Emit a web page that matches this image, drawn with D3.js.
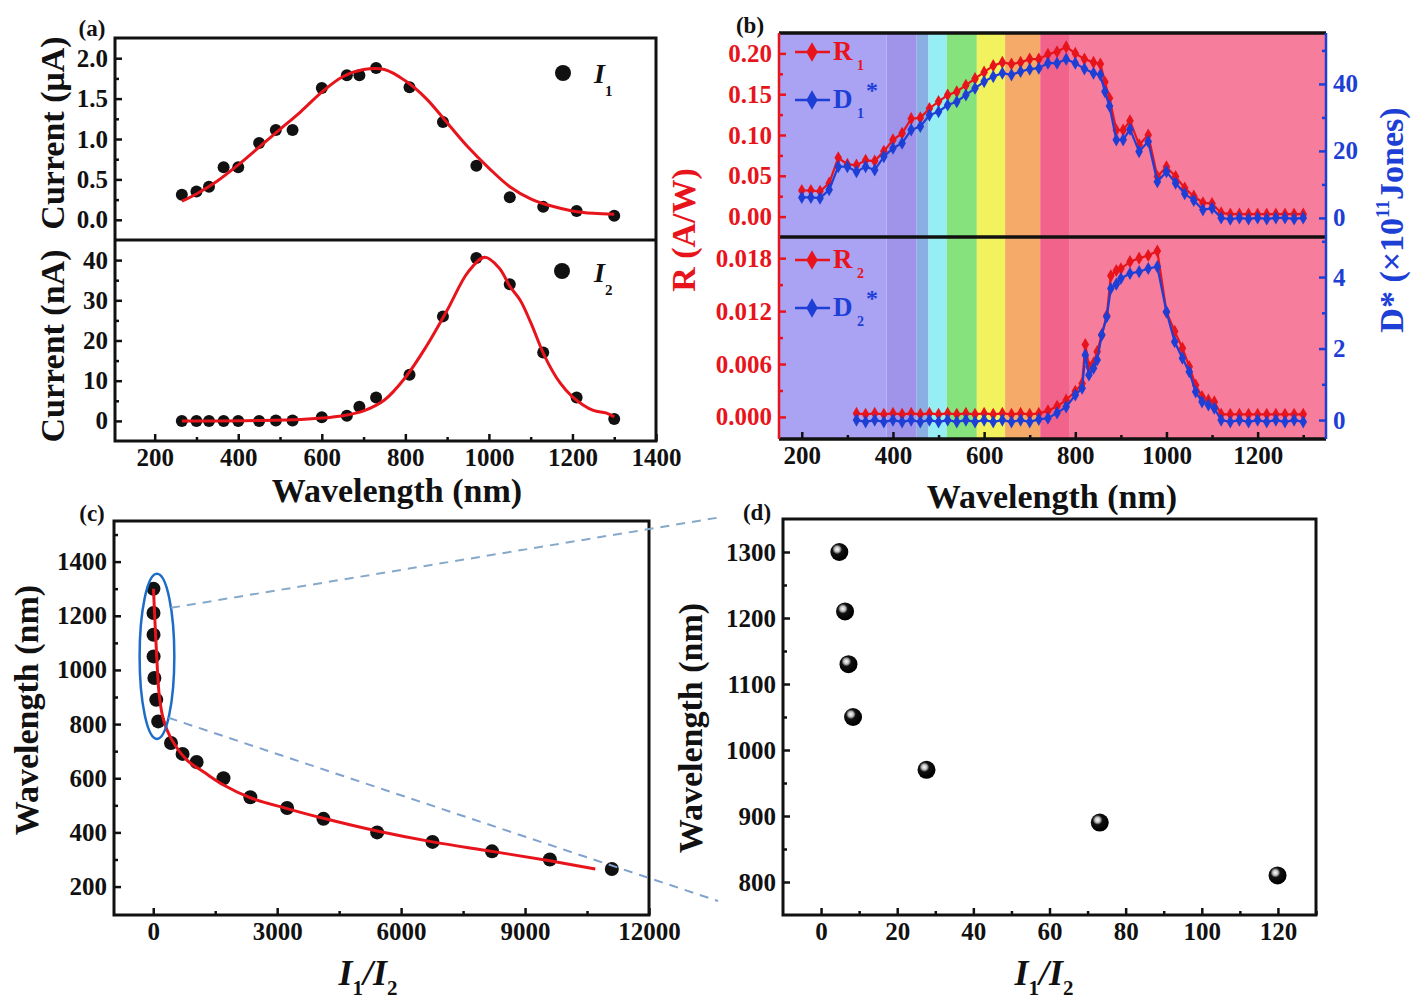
<!DOCTYPE html>
<html>
<head>
<meta charset="utf-8">
<script src="https://cdn.jsdelivr.net/npm/d3@7"></script>
<style>
  body { margin: 0; background: #fff; }
  svg text { font-family: "Liberation Serif", "Times New Roman", serif; font-weight: bold; }
</style>
</head>
<body>
<svg id="fig" width="1415" height="1005"></svg>
<script>
'use strict';

// ---------------------------------------------------------------
// Panel (a): photocurrent of the two channels vs wavelength
const wlA = [265, 300, 330, 365, 400, 450, 490, 530, 600, 660, 690, 730, 810, 890, 970, 1050, 1130, 1210, 1300];
const i1 = [0.31, 0.35, 0.41, 0.65, 0.65, 0.95, 1.11, 1.11, 1.63, 1.79, 1.79, 1.88, 1.64, 1.21, 0.67, 0.28, 0.16, 0.11, 0.05];
const i2 = [0, 0, 0, 0, 0, 0, 0.1, 0.1, 0.9, 1.3, 3.5, 5.8, 11.5, 26, 40.5, 34, 17, 5.8, 0.5];

// fitted curves
const fitWlI1 = [265, 300, 350, 400, 450, 500, 550, 600, 650, 700, 750, 800, 850, 900, 950, 1000, 1050, 1100, 1150, 1200, 1250, 1300];
const fitI1 = [0.23, 0.32, 0.48, 0.68, 0.90, 1.12, 1.34, 1.58, 1.77, 1.86, 1.86, 1.72, 1.50, 1.20, 0.90, 0.64, 0.41, 0.26, 0.17, 0.11, 0.08, 0.07];
const fitWlI2 = [265, 350, 450, 550, 600, 650, 700, 750, 800, 850, 900, 950, 990, 1025, 1050, 1075, 1100, 1134, 1170, 1200, 1250, 1280, 1300];
const fitI2 = [0, 0, 0.1, 0.35, 0.7, 1.3, 2.5, 5.2, 10.8, 18.5, 27.5, 37, 40.7, 38, 33.5, 30, 24.5, 16, 9.5, 6, 2.6, 2, 1.0];

// ---------------------------------------------------------------
// Panel (b): responsivity and detectivity
const wlB1 = [200, 220, 240, 260, 280, 300, 320, 340, 360, 380, 400, 420, 440, 460, 480, 500, 520, 540, 560, 580,
  600, 620, 640, 660, 680, 700, 720, 740, 760, 780, 800, 820, 840, 855, 865, 875, 890, 905, 920, 940,
  960, 980, 1000, 1020, 1040, 1060, 1080, 1100, 1120, 1140, 1160, 1180, 1200, 1220, 1240, 1260, 1280, 1300];
const r1 = [0.032, 0.032, 0.031, 0.041, 0.072, 0.064, 0.063, 0.069, 0.068, 0.080, 0.094, 0.102, 0.120, 0.121, 0.1325, 0.141, 0.149, 0.153, 0.161, 0.169,
  0.177, 0.185, 0.189, 0.187, 0.189, 0.193, 0.193, 0.199, 0.202, 0.208, 0.200, 0.193, 0.189, 0.187, 0.165, 0.145, 0.106, 0.106, 0.1175, 0.088,
  0.100, 0.049, 0.061, 0.049, 0.035, 0.025, 0.017, 0.016, 0.0045, 0.003, 0.003, 0.003, 0.003, 0.003, 0.003, 0.003, 0.003, 0.003];
const d1 = [6.1, 6.1, 5.9, 8.4, 15.3, 15.3, 13.8, 15.3, 14.3, 18.3, 20.8, 22.3, 26.3, 27.3, 30.7, 31.7, 33.7, 34.7, 36.7, 38.7,
  40.7, 42.2, 43.2, 42.7, 43.7, 44.4, 44.7, 46.2, 46.2, 47.4, 46.2, 44.5, 43.2, 42.7, 37.7, 33.4, 23.3, 23.3, 26.5, 19.8,
  22.8, 10.8, 13.8, 10.4, 7.2, 5.2, 2.4, 2.9, 0.0, -0.4, 0.0, -0.3, 0.0, -0.3, 0.0, 0.0, -0.3, 0.0];

const wlB2 = [320, 340, 360, 380, 400, 420, 440, 460, 480, 500, 520, 540, 560, 580, 600, 620, 640, 660, 680, 700,
  720, 740, 760, 780, 800, 815, 822, 830, 840, 848, 858, 869, 878, 890, 900, 920, 940, 960, 980, 1000,
  1018, 1035, 1050, 1064, 1078, 1092, 1105, 1120, 1140, 1160, 1180, 1200, 1220, 1240, 1260, 1280, 1300];
const r2 = [0.0004, 0.0003, 0.0004, 0.0003, 0.0004, 0.0003, 0.0004, 0.0003, 0.0004, 0.0003, 0.0004, 0.0003, 0.0004, 0.0003, 0.0004, 0.0003, 0.0004, 0.0003, 0.0004, 0.0003,
  0.0004, 0.0007, 0.0012, 0.0019, 0.0029, 0.0038, 0.0082, 0.0057, 0.0061, 0.0074, 0.0093, 0.0115, 0.0160, 0.0166, 0.0168, 0.0176, 0.0180, 0.0183, 0.0188, 0.0119,
  0.0097, 0.0078, 0.0057, 0.0036, 0.0023, 0.0019, 0.0017, 0.0003, 0.0003, 0.0003, 0.0003, 0.0003, 0.0003, 0.0003, 0.0003, 0.0003, 0.0003];
const d2 = [0, -0.05, 0, -0.05, 0, -0.05, 0, -0.05, 0, -0.05, 0, -0.05, 0, -0.05, 0, -0.05, 0, -0.05, 0, -0.05,
  0.02, 0.05, 0.2, 0.37, 0.7, 0.89, 1.82, 1.26, 1.45, 1.68, 2.38, 2.89, 3.68, 3.8, 3.96, 4.1, 4.15, 4.24, 4.29, 3.03,
  2.19, 1.73, 1.35, 0.79, 0.51, 0.42, 0.33, 0.0, -0.05, 0, -0.05, 0, -0.05, 0, -0.05, 0, -0.05];

// spectral bands behind panel (b), edges in nm
const bandEdges = [150, 386, 452, 478, 518, 584, 646, 723, 788, 1350];
const bandColors = ['#aaa3f3', '#a093ea', '#8aafe2', '#95eef3', '#86e27c', '#f2f25f', '#f6aa6a', '#f2638c', '#f67d9b'];

// ---------------------------------------------------------------
// Panel (c) / (d): wavelength vs I1/I2
const wlC = [265, 300, 330, 365, 400, 450, 490, 530, 600, 660, 690, 730, 810, 890, 970, 1050, 1130, 1210, 1300];
const ratioC = [11100, 9600, 8200, 6760, 5420, 4120, 3240, 2350, 1700, 1050, 710, 430, 120, 73, 28, 8.5, 7.2, 6.3, 4.8];
const fitRatioC = [5, 80, 150, 250, 420, 810, 1250, 1700, 2350, 3240, 4120, 5420, 6760, 8200, 9600, 10700];
const fitWlC = [1300, 1060, 900, 815, 750, 668, 620, 575, 528, 488, 452, 405, 365, 330, 295, 265];

const wlD = [1300, 1210, 1130, 1050, 970, 890, 810];
const ratioD = [4.8, 6.3, 7.2, 8.4, 27.7, 73.2, 119.9];

// tick values
const ticksAx = [200, 400, 600, 800, 1000, 1200, 1400];
const ticksA1 = [0, 0.5, 1.0, 1.5, 2.0];
const ticksA2 = [0, 10, 20, 30, 40];
const ticksBx = [200, 400, 600, 800, 1000, 1200];
const ticksBL1 = [0, 0.05, 0.10, 0.15, 0.20];
const ticksBR1 = [0, 20, 40];
const ticksBL2 = [0, 0.006, 0.012, 0.018];
const ticksBR2 = [0, 2, 4];
const ticksCx = [0, 3000, 6000, 9000, 12000];
const ticksCy = [200, 400, 600, 800, 1000, 1200, 1400];
const ticksDx = [0, 20, 40, 60, 80, 100, 120];
const ticksDy = [800, 900, 1000, 1100, 1200, 1300];

// ---------------------------------------------------------------
const svg = d3.select('#fig');
const RED = '#e8141c';
const BLUE = '#1e3fd6';
const BLACK = '#111';
const TITLE = 34;

svg.append('rect').attr('width', 1415).attr('height', 1005).attr('fill', '#fff');

const defs = svg.append('defs');
const ball = defs.append('radialGradient').attr('id', 'ball').attr('cx', '38%').attr('cy', '35%').attr('r', '60%');
ball.append('stop').attr('offset', '0%').attr('stop-color', '#fff');
ball.append('stop').attr('offset', '25%').attr('stop-color', '#bbb');
ball.append('stop').attr('offset', '45%').attr('stop-color', '#111');
ball.append('stop').attr('offset', '100%').attr('stop-color', '#000');

// Draws one axis with major ticks (labelled) and optional minor ticks, all pointing inward.
function addAxis(gen, scale, major, minor, at, color, fmt, size) {
    const a = svg.append('g').attr('transform', at)
        .call(gen(scale).tickValues(major).tickSizeInner(-7).tickSizeOuter(0).tickPadding(7).tickFormat(fmt));
    a.select('.domain').remove();
    a.selectAll('.tick line').attr('stroke', color).attr('stroke-width', 2.5);
    a.selectAll('.tick text').attr('fill', color).attr('font-size', size || 25);
    if (minor) {
        const m = svg.append('g').attr('transform', at)
            .call(gen(scale).tickValues(minor).tickSizeInner(-4).tickSizeOuter(0).tickFormat(''));
        m.select('.domain').remove();
        m.selectAll('.tick line').attr('stroke', color).attr('stroke-width', 2.5);
    }
}

function text(x, y, str, size, color, rotate, anchor) {
    const t = svg.append('text')
        .attr('transform', `translate(${x},${y})` + (rotate ? ' rotate(-90)' : ''))
        .attr('text-anchor', anchor || 'middle')
        .attr('font-size', size)
        .attr('fill', color || BLACK);
    t.text(str);
    return t;
}

function hLine(x1, x2, y, color, w) {
    svg.append('line').attr('x1', x1).attr('x2', x2).attr('y1', y).attr('y2', y)
        .attr('stroke', color).attr('stroke-width', w);
}
function vLine(x, y1, y2, color, w) {
    svg.append('line').attr('x1', x).attr('x2', x).attr('y1', y1).attr('y2', y2)
        .attr('stroke', color).attr('stroke-width', w);
}

// ===============================================================
// Panel (a)
const aX = d3.scaleLinear().domain([105, 1400]).range([115, 656]);
const aY1 = d3.scaleLinear().domain([-0.25, 2.25]).range([240, 38]);
const aY2 = d3.scaleLinear().domain([-5, 45]).range([441, 240]);

const lineA1 = d3.line().x((d, i) => aX(fitWlI1[i])).y(d => aY1(d)).curve(d3.curveCatmullRom);
const lineA2 = d3.line().x((d, i) => aX(fitWlI2[i])).y(d => aY2(d)).curve(d3.curveCatmullRom);

svg.append('g').selectAll('circle').data(i1).enter().append('circle')
    .attr('cx', (d, i) => aX(wlA[i])).attr('cy', d => aY1(d)).attr('r', 6).attr('fill', BLACK);
svg.append('g').selectAll('circle').data(i2).enter().append('circle')
    .attr('cx', (d, i) => aX(wlA[i])).attr('cy', d => aY2(d)).attr('r', 6).attr('fill', BLACK);
svg.append('path').datum(fitI1).attr('d', lineA1).attr('fill', 'none').attr('stroke', RED).attr('stroke-width', 3);
svg.append('path').datum(fitI2).attr('d', lineA2).attr('fill', 'none').attr('stroke', RED).attr('stroke-width', 3);

addAxis(d3.axisLeft, aY1, ticksA1, [0.25, 0.75, 1.25, 1.75], 'translate(115,0)', BLACK, d3.format('.1f'));
addAxis(d3.axisLeft, aY2, ticksA2, [5, 15, 25, 35], 'translate(115,0)', BLACK, d3.format('d'));
addAxis(d3.axisBottom, aX, ticksAx, [300, 500, 700, 900, 1100, 1300], 'translate(0,441)', BLACK, d3.format('d'));

svg.append('rect').attr('x', 115).attr('y', 38).attr('width', 541).attr('height', 403)
    .attr('fill', 'none').attr('stroke', BLACK).attr('stroke-width', 3);
hLine(115, 656, 240, BLACK, 3);

// legend (a)
svg.append('circle').attr('cx', 563).attr('cy', 73).attr('r', 8).attr('fill', BLACK);
const la1 = text(594, 83, 'I', 28, BLACK, false, 'start').attr('font-style', 'italic');
la1.append('tspan').attr('dy', 13).attr('font-size', 15).attr('font-style', 'normal').text('1');
svg.append('circle').attr('cx', 562).attr('cy', 271).attr('r', 8).attr('fill', BLACK);
const la2 = text(594, 282, 'I', 28, BLACK, false, 'start').attr('font-style', 'italic');
la2.append('tspan').attr('dy', 13).attr('font-size', 15).attr('font-style', 'normal').text('2');

text(64, 133, 'Current (\u03bcA)', TITLE, BLACK, true);
text(64, 346, 'Current (nA)', TITLE, BLACK, true);
text(397, 502, 'Wavelength (nm)', TITLE);
text(92, 36, '(a)', 23);

// ===============================================================
// Panel (b)
const bX = d3.scaleLinear().domain([150, 1350]).range([779, 1326]);
const bYL1 = d3.scaleLinear().domain([-0.025, 0.225]).range([237, 33]);
const bYR1 = d3.scaleLinear().domain([-5.7, 55.2]).range([237, 33]);
const bYL2 = d3.scaleLinear().domain([-0.0025, 0.0204]).range([439, 237]);
const bYR2 = d3.scaleLinear().domain([-0.53, 5.12]).range([439, 237]);

svg.append('g').selectAll('rect').data(bandColors).enter().append('rect')
    .attr('x', (d, i) => bX(bandEdges[i]))
    .attr('width', (d, i) => bX(bandEdges[i + 1]) - bX(bandEdges[i]))
    .attr('y', 33).attr('height', 406)
    .attr('fill', d => d);

const diamond = d3.symbol().type(d3.symbolDiamond).size(50);

function series(wl, vals, y, color) {
    const line = d3.line().x((d, i) => bX(wl[i])).y(d => y(d));
    svg.append('path').datum(vals).attr('d', line).attr('fill', 'none').attr('stroke', color).attr('stroke-width', 2.2);
    svg.append('g').selectAll('path').data(vals).enter().append('path')
        .attr('d', diamond)
        .attr('transform', (d, i) => `translate(${bX(wl[i])},${y(d)})`)
        .attr('fill', color);
}
series(wlB1, r1, bYL1, RED);
series(wlB1, d1, bYR1, BLUE);
series(wlB2, r2, bYL2, RED);
series(wlB2, d2, bYR2, BLUE);

addAxis(d3.axisLeft, bYL1, ticksBL1, [0.025, 0.075, 0.125, 0.175], 'translate(779,0)', RED, d3.format('.2f'));
addAxis(d3.axisLeft, bYL2, ticksBL2, [0.003, 0.009, 0.015], 'translate(779,0)', RED, d3.format('.3f'));
addAxis(d3.axisRight, bYR1, ticksBR1, [10, 30, 50], 'translate(1326,0)', BLUE, d3.format('d'));
addAxis(d3.axisRight, bYR2, ticksBR2, [1, 3, 5], 'translate(1326,0)', BLUE, d3.format('d'));
addAxis(d3.axisBottom, bX, ticksBx, [300, 500, 700, 900, 1100, 1300], 'translate(0,439)', BLACK, d3.format('d'));

hLine(779, 1326, 33, BLACK, 3.5);
hLine(779, 1326, 237, BLACK, 3.5);
hLine(779, 1326, 439, BLACK, 3.5);
vLine(779, 33, 439, RED, 2.5);
vLine(1326, 33, 439, BLUE, 2.5);

// legend (b)
function legendItem(y, color, main, sub, star) {
    hLine(795, 830, y, color, 2.5);
    svg.append('path').attr('d', d3.symbol().type(d3.symbolDiamond).size(110))
        .attr('transform', `translate(812,${y})`).attr('fill', color);
    text(833, y + 8, main, 27, color, false, 'start');
    text(857, y + 18, sub, 14, color, false, 'start');
    if (star) text(866, y - 2, '*', 24, color, false, 'start');
}
legendItem(52, RED, 'R', '1', false);
legendItem(100, BLUE, 'D', '1', true);
legendItem(260, RED, 'R', '2', false);
legendItem(308, BLUE, 'D', '2', true);

text(695, 230, 'R (A/W)', TITLE, RED, true);
const dLab = text(1403, 220, 'D* (\u00d710', TITLE, BLUE, true);
dLab.append('tspan').attr('dy', -14).attr('font-size', 19).text('11');
dLab.append('tspan').attr('dy', 14).text('Jones)');
text(1052, 508, 'Wavelength (nm)', TITLE);
text(750, 33, '(b)', 23);

// ===============================================================
// Panel (c)
const cX = d3.scaleLinear().domain([-950, 12000]).range([114, 649]);
const cY = d3.scaleLinear().domain([95, 1550]).range([915, 521]);

const lineC = d3.line().x((d, i) => cX(fitRatioC[i])).y(d => cY(d)).curve(d3.curveCatmullRom);
svg.append('g').selectAll('circle').data(wlC).enter().append('circle')
    .attr('cx', (d, i) => cX(ratioC[i])).attr('cy', d => cY(d)).attr('r', 7).attr('fill', BLACK);
svg.append('path').datum(fitWlC).attr('d', lineC).attr('fill', 'none').attr('stroke', RED).attr('stroke-width', 3);

addAxis(d3.axisLeft, cY, ticksCy, [300, 500, 700, 900, 1100, 1300, 1500], 'translate(114,0)', BLACK, d3.format('d'));
addAxis(d3.axisBottom, cX, ticksCx, [1500, 4500, 7500, 10500], 'translate(0,915)', BLACK, d3.format('d'));
svg.append('rect').attr('x', 114).attr('y', 521).attr('width', 535).attr('height', 394)
    .attr('fill', 'none').attr('stroke', BLACK).attr('stroke-width', 3);

// zoom ellipse around the near-infrared points
const ellCx = cX(90), ellCy = cY(1050);
const ellRx = cX(510) - cX(90), ellRy = cY(745) - cY(1050);
svg.append('ellipse').attr('cx', ellCx).attr('cy', ellCy).attr('rx', ellRx).attr('ry', ellRy)
    .attr('fill', 'none').attr('stroke', '#1c6cc8').attr('stroke-width', 2.5);

text(38, 710, 'Wavelength (nm)', TITLE, BLACK, true);
const cLab = text(368, 985, 'I', 36).attr('font-style', 'italic');
cLab.append('tspan').attr('dy', 10).attr('font-size', 21).attr('font-style', 'normal').text('1');
cLab.append('tspan').attr('dy', -10).text('/I');
cLab.append('tspan').attr('dy', 10).attr('font-size', 21).attr('font-style', 'normal').text('2');
text(92, 521, '(c)', 23);

// ===============================================================
// Panel (d)
const dX = d3.scaleLinear().domain([-10, 130]).range([783, 1316]);
const dY = d3.scaleLinear().domain([750, 1350]).range([915, 519]);

addAxis(d3.axisLeft, dY, ticksDy, [850, 950, 1050, 1150, 1250], 'translate(783,0)', BLACK, d3.format('d'));
addAxis(d3.axisBottom, dX, ticksDx, [10, 30, 50, 70, 90, 110, 130], 'translate(0,915)', BLACK, d3.format('d'));
svg.append('rect').attr('x', 783).attr('y', 519).attr('width', 533).attr('height', 396)
    .attr('fill', 'none').attr('stroke', BLACK).attr('stroke-width', 3);

svg.append('g').selectAll('circle').data(wlD).enter().append('circle')
    .attr('cx', (d, i) => dX(ratioD[i])).attr('cy', d => dY(d)).attr('r', 9).attr('fill', 'url(#ball)');

text(702, 728, 'Wavelength (nm)', TITLE, BLACK, true);
const dxLab = text(1044, 985, 'I', 36).attr('font-style', 'italic');
dxLab.append('tspan').attr('dy', 10).attr('font-size', 21).attr('font-style', 'normal').text('1');
dxLab.append('tspan').attr('dy', -10).text('/I');
dxLab.append('tspan').attr('dy', 10).attr('font-size', 21).attr('font-style', 'normal').text('2');
text(757, 520, '(d)', 23);

// dashed connectors from the ellipse in (c) to panel (d)
const upA = -36 * Math.PI / 180, loA = 48 * Math.PI / 180;
svg.append('line')
    .attr('x1', ellCx + ellRx * Math.cos(upA)).attr('y1', ellCy + ellRy * Math.sin(upA))
    .attr('x2', dX.range()[0] - 61).attr('y2', dY.range()[1] - 2)
    .attr('stroke', '#86a9c8').attr('stroke-width', 2).attr('stroke-dasharray', '9,7');
svg.append('line')
    .attr('x1', ellCx + ellRx * Math.cos(loA)).attr('y1', ellCy + ellRy * Math.sin(loA))
    .attr('x2', dX.range()[0] - 65).attr('y2', dY.range()[0] - 14)
    .attr('stroke', '#7fa2cf').attr('stroke-width', 2).attr('stroke-dasharray', '9,7');
</script>
</body>
</html>
